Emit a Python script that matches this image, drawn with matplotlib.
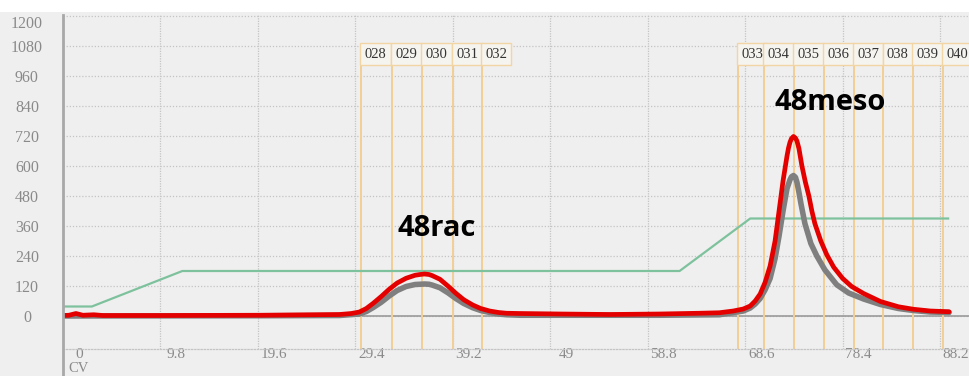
import matplotlib
matplotlib.use("Agg")
import matplotlib.pyplot as plt
from matplotlib.lines import Line2D
from matplotlib.patches import Rectangle
from matplotlib.transforms import ScaledTranslation

# ---- chromatogram data (CV vs. signal) ----
uv_cv = [0.0, 0.6, 1.3, 2.0, 3.1, 4.0, 10.0, 20.0, 27.8, 29.0, 29.8, 30.5, 31.2,
         32.0, 32.8, 33.6, 34.5, 35.4, 35.9, 36.35, 36.8, 37.1, 37.9, 38.7, 39.5,
         40.3, 41.2, 42.0, 42.9, 43.8, 44.6, 45.9, 50.0, 55.0, 60.0, 64.0, 66.0,
         67.4, 68.4, 69.1, 69.6, 70.1, 70.6, 71.1, 71.6, 72.0, 72.4, 72.8, 72.95,
         73.1, 73.25, 73.45, 73.65, 73.8, 74.0, 74.3, 74.65, 75.0, 75.3, 75.6,
         76.2, 76.8, 77.5, 78.4, 79.3, 80.5, 82.2, 84.0, 85.5, 87.2, 89.1]
uv_red = [2, 3, 10, 3, 5, 2, 2, 3, 6, 10, 16, 30, 51,
          78, 107, 132, 151, 163, 166, 168, 166, 162, 147, 120, 91,
          65, 44, 30, 20, 14, 11, 10, 8, 6, 8, 11, 13,
          20, 28, 40, 60, 88, 135, 200, 300, 420, 540, 640, 672,
          695, 710, 718, 712, 700, 670, 600, 535, 480, 420, 370,
          300, 245, 195, 150, 118, 90, 58, 37, 27, 20, 17]

ref_cv = [0.0, 20.0, 27.8, 29.8, 30.5, 31.2, 32.0, 32.8, 33.6, 34.5, 35.4, 35.9,
          36.35, 36.8, 37.1, 37.9, 38.7, 39.5, 40.3, 41.2, 42.0, 42.9, 43.8, 44.6,
          46.0, 60.0, 66.0, 68.4, 69.1, 69.6, 70.1, 70.6, 71.1, 71.6, 72.0, 72.4,
          72.8, 73.1, 73.25, 73.45, 73.65, 73.8, 74.0, 74.2, 74.6, 75.2, 75.8, 76.6,
          77.8, 79.0, 80.5, 82.2, 84.0, 85.5, 87.2, 89.1]
ref_gray = [0, 1, 2, 8, 18, 34, 55, 80, 102, 118, 126, 127,
            128, 127, 124, 113, 93, 70, 50, 33, 22, 14, 8, 5,
            3, 3, 5, 20, 32, 48, 70, 105, 150, 230, 320, 420,
            510, 545, 557, 562, 555, 535, 495, 450, 370, 290, 240, 185,
            125, 92, 68, 46, 30, 22, 16, 14]

grad_cv = [0.0, 2.9, 12.0, 62.0, 69.1, 89.0]
grad_val = [38, 38, 180, 180, 390, 390]

frac_labels = ["028", "029", "030", "031", "032",
               "033", "034", "035", "036", "037", "038", "039", "040"]
frac_cv = [30.0, 33.1, 36.1, 39.2, 42.1,
           67.9, 70.5, 73.5, 76.5, 79.5, 82.5, 85.5, 88.5]

peak_names = ["48rac", "48meso"]
peak_pos = [(37.6, 352), (77.1, 852)]

x_ticks = [0, 9.8, 19.6, 29.4, 39.2, 49, 58.8, 68.6, 78.4, 88.2]
x_tick_labels = ["0", "9.8", "19.6", "29.4", "39.2", "49", "58.8", "68.6", "78.4", "88.2"]
y_ticks = [0, 120, 240, 360, 480, 600, 720, 840, 960, 1080, 1200]

BG = "#f0efef"
GRID = "#c4c4c4"
TICK_GRAY = "#8a8a8a"

W, H = 969, 376
fig = plt.figure(figsize=(W / 100, H / 100), dpi=100, facecolor=BG)
ax_left, ax_top, ax_bottom = 63, 15, 349
ax = fig.add_axes([ax_left / W, 1 - ax_bottom / H, 1 - ax_left / W, (ax_bottom - ax_top) / H])
ax.set_facecolor(BG)
ax.set_xlim(0, 91.1)
ax.set_ylim(-132, 1204)

# white strip above the plot area
fig.add_artist(Rectangle((0, 1 - 12 / H), 1, 12 / H, transform=fig.transFigure,
                         facecolor="white", edgecolor="none", zorder=0))

# grid
for yt in y_ticks:
    ax.axhline(yt, color=GRID, lw=0.9, ls=(0, (1, 1.5)), zorder=0)
for xt in x_ticks[1:]:
    ax.axvline(xt, color=GRID, lw=0.9, ls=(0, (1, 1)), zorder=0)

for side in ["top", "right", "left"]:
    ax.spines[side].set_visible(False)
ax.spines["bottom"].set_color(GRID)
ax.spines["bottom"].set_linestyle((0, (1, 1.5)))
ax.spines["bottom"].set_linewidth(0.9)

# left axis line running down to the figure bottom
fig.add_artist(Line2D([ax_left / W, ax_left / W], [0, 1 - ax_top / H],
                      transform=fig.transFigure, color="#a8a8a8", lw=2, zorder=5))

# zero baseline
ax.axhline(0, color="#9a9a9a", lw=1.2, zorder=1)

# fraction markers
for lab, xc in zip(frac_labels, frac_cv):
    ax.plot([xc, xc], [-132, 1048], color="#f3cf95", lw=1.4, zorder=2)
    ax.text(xc, 1048, lab, ha="left", va="center", fontsize=10.5,
            family="Liberation Serif", color="#333333", zorder=6,
            transform=ax.transData + ScaledTranslation(3.5 / 100, 0, fig.dpi_scale_trans),
            bbox=dict(boxstyle="square,pad=0.3", fc="#f6f4ef", ec="#f1d5a5", lw=1.0))

# gradient, reference trace and UV trace
ax.plot(grad_cv, grad_val, color="#7dc29d", lw=1.6, zorder=3)
ax.plot(ref_cv, ref_gray, color="#7f7f7f", lw=4.0, zorder=4,
        solid_joinstyle="round", solid_capstyle="round")
ax.plot(uv_cv, uv_red, color="#e50000", lw=3.4, zorder=5,
        solid_joinstyle="round", solid_capstyle="round")

# peak names
for name, (px, py) in zip(peak_names, peak_pos):
    ax.text(px, py, name, ha="center", va="center", fontsize=21, fontweight="bold",
            family="Open Sans", color="black", zorder=7)

# y tick labels centered left of the axis
ax.set_yticks(y_ticks)
ax.set_yticklabels([str(v) for v in y_ticks])
ax.tick_params(axis="y", length=0, pad=26, labelsize=11.5, labelcolor=TICK_GRAY)
for lab in ax.get_yticklabels():
    lab.set_horizontalalignment("center")
    lab.set_family("Liberation Serif")
    if lab.get_text() == "1200":
        lab.set_transform(lab.get_transform() + ScaledTranslation(0, -6 / 100, fig.dpi_scale_trans))

# x tick labels offset right of their grid lines
ax.set_xticks(x_ticks)
ax.set_xticklabels(x_tick_labels)
ax.tick_params(axis="x", length=0, pad=0, labelsize=11, labelcolor=TICK_GRAY)
for lab in ax.get_xticklabels():
    lab.set_family("Liberation Serif")
    lab.set_transform(lab.get_transform() + ScaledTranslation(16 / 100, 1 / 100, fig.dpi_scale_trans))

fig.text(79 / W, 1 - 368.5 / H, "CV", ha="center", va="center", fontsize=10.5,
         family="Liberation Serif", color=TICK_GRAY)

fig.savefig("out.png", dpi=100, facecolor=BG)
